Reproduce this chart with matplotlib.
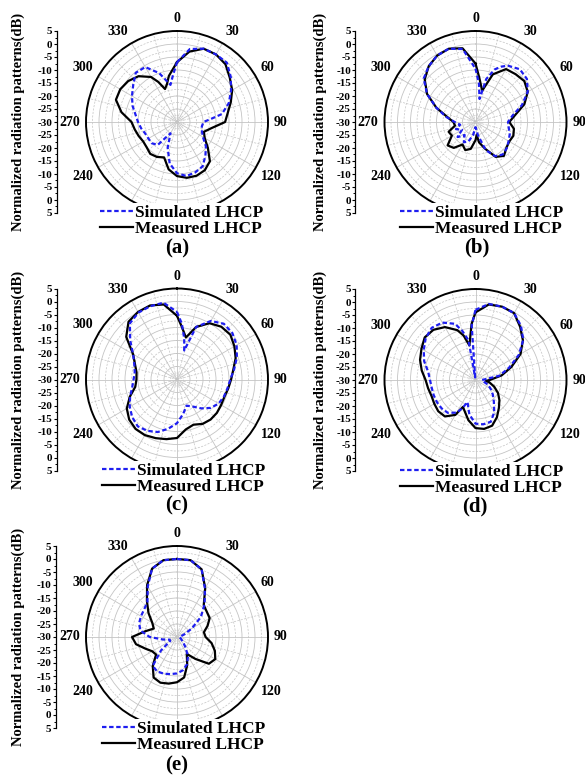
import numpy as np
import matplotlib
matplotlib.use("Agg")
import matplotlib.pyplot as plt
from matplotlib.lines import Line2D
from matplotlib.ticker import FixedLocator

plt.rcParams['font.family'] = ['Liberation Serif', 'DejaVu Serif']
plt.rcParams['font.weight'] = 'bold'

# ---------------- pattern data (angle in degrees, level in dB) ----------------
theta_a_meas = [0, 10, 20, 30, 40, 50, 60, 70, 80, 90, 100, 110, 120, 130, 140, 150, 160, 170,
                180, 190, 200, 210, 220, 230, 240, 250, 260, 270, 280, 290, 300, 310, 320, 330,
                335, 340, 345, 350]
db_a_meas = [-7, -2.5, 0, 0, -1, -3.5, -5.5, -8, -10.2, -11.5, -16.5, -19, -17.7, -14.5, -10.3,
             -8.6, -8, -8.2, -9.2, -11.5, -15.5, -14.5, -14, -14.8, -15, -14.3, -13.5, -12.5,
             -8.3, -5, -4.8, -5.5, -7, -10, -13, -16.5, -15, -12]
theta_a_sim = [0, 10, 20, 30, 40, 50, 60, 70, 80, 85, 90, 100, 110, 120, 130, 140, 150, 160, 170,
               180, 190, 200, 210, 220, 230, 240, 250, 260, 270, 280, 290, 300, 310, 320, 330,
               340, 350, 355]
db_a_sim = [-7, -1.5, 0, 0, -0.2, -3, -6, -8.8, -12.5, -17, -19.8, -20.3, -19.8, -18.5, -15.5,
            -13, -10.3, -9.4, -8.9, -10.3, -13.8, -19.5, -25, -18.5, -17.3, -17.3, -17, -16, -15,
            -13.8, -11.8, -10, -8, -5.3, -5.6, -10, -15.5, -12]

theta_b_meas = [0, 5, 12, 20, 30, 40, 50, 60, 70, 80, 90, 100, 110, 120, 130, 140, 150, 160, 170,
                175, 180, 190, 200, 210, 220, 230, 240, 250, 260, 270, 280, 290, 300, 310, 320,
                330, 340, 350]
db_b_meas = [-7.5, -13, -17.7, -10.5, -6.5, -6, -5.5, -6.8, -10, -14.5, -17, -15, -14.5, -15,
             -14.5, -13, -14.5, -19, -22, -25, -23, -19.5, -18.5, -20, -17, -16, -19.5, -19, -22,
             -21.5, -19, -14, -8.5, -4.5, -2, -0.5, 0, -1.2]
theta_b_sim = [0, 5, 10, 14, 20, 25, 30, 40, 50, 60, 70, 80, 90, 100, 110, 120, 130, 140, 150,
               160, 170, 180, 190, 200, 210, 220, 230, 240, 250, 260, 270, 280, 290, 300, 310,
               320, 330, 340, 350]
db_b_sim = [-9.5, -15, -21, -13, -8.5, -6.5, -5, -3.5, -4.2, -6.8, -11, -15.5, -17.5, -17, -16,
            -15.3, -14.3, -13.7, -14.8, -18.5, -25, -28, -25, -22, -21, -23.5, -21, -24, -22, -24,
            -22, -18.5, -14, -8.5, -4, -2, -0.5, 0, -1.5]

theta_c_meas = [0, 5, 12, 20, 30, 40, 50, 60, 70, 80, 90, 100, 110, 120, 130, 140, 150, 160, 170,
                180, 190, 200, 210, 220, 230, 240, 250, 260, 270, 280, 290, 300, 310, 320, 330,
                340, 350]
db_c_meas = [-5.5, -9.5, -13.5, -8.5, -5, -3.5, -3.2, -4.5, -6, -8, -9.2, -10, -10.6, -10.4, -10,
             -9.9, -10.3, -11.5, -10.5, -7.5, -6.7, -6, -5.3, -5.2, -6, -7.7, -10.7, -13.7, -14.4,
             -14.2, -12.8, -10.5, -4.5, -1, 0, 0.3, -0.7]
theta_c_sim = [0, 5, 10, 14, 20, 30, 40, 50, 60, 70, 80, 90, 100, 110, 120, 130, 140, 150, 160,
               170, 180, 190, 200, 210, 220, 230, 240, 250, 260, 270, 280, 290, 300, 310, 320,
               330, 340, 350]
db_c_sim = [-4, -8.5, -14, -18.5, -8.5, -4, -2, -2.2, -3.5, -5.5, -7.7, -9.5, -10.3, -10.8, -11.5,
            -13, -15.5, -18, -19.3, -16.5, -13.2, -10.8, -8.5, -7.2, -6.5, -7.5, -9, -10.8, -12.5,
            -13.3, -13.5, -12.5, -10.5, -6.5, -1.8, -0.3, 0, 0]

theta_d_meas = [0, 10, 20, 30, 40, 50, 60, 70, 80, 90, 95, 100, 110, 120, 130, 140, 150, 160, 170,
                180, 190, 200, 205, 210, 220, 230, 240, 250, 260, 270, 280, 290, 300, 310, 320,
                330, 340, 345, 350, 353, 356]
db_d_meas = [-4, -0.5, 0, -0.3, -3.3, -6.2, -10, -15.3, -19.8, -24.5, -26, -24.5, -22.3, -20, -18,
             -16, -13.5, -11.3, -10.9, -11.5, -14.3, -17.5, -18.6, -14.5, -11.7, -11.3, -11.7,
             -12, -11.5, -10.8, -9, -7.3, -6, -4.5, -4.8, -6.5, -9.6, -12.3, -16.5, -13.4, -8.4]
theta_d_sim = [0, 10, 20, 30, 40, 50, 60, 70, 80, 90, 100, 110, 120, 130, 140, 150, 160, 170, 180,
               190, 200, 205, 210, 220, 230, 240, 250, 260, 270, 280, 290, 300, 310, 320, 330,
               340, 345, 350, 353, 356]
db_d_sim = [-3, -0.3, 0, -0.3, -2.8, -6, -10.8, -16.3, -20.8, -27.5, -27, -25, -23.3, -21.3, -19,
            -15.6, -12.9, -12.7, -13.2, -16.5, -21, -18, -15.5, -13.5, -13, -12.9, -12.9, -12.9,
            -12.5, -11.5, -9, -7, -5, -3.8, -4.5, -7, -10.5, -14.5, -29, -9]

theta_e_meas = list(range(0, 360, 10))
db_e_meas = [0, 0, -2.3, -8.3, -14, -15, -15.5, -17.5, -19.5, -19, -16.5, -14.5, -13, -14, -19,
             -22.5, -18.5, -14.2, -12.6, -11.8, -11.3, -12, -15.5, -19.5, -19, -17, -14, -12.7,
             -17.5, -20.5, -19, -15.7, -12, -7, -2, 0]
theta_e_sim = list(range(0, 360, 10))
db_e_sim = [0, 0, -2.3, -8.5, -13.5, -18, -23.4, -27, -28.5, -29, -29, -28.5, -28, -27, -25,
            -21.5, -18.8, -17, -16, -15.5, -15, -14.7, -15.5, -22, -27, -27, -24.5, -19.5, -15.7,
            -14.5, -14, -13.5, -12.3, -7.5, -2, 0]

angle_ticks = [0, 30, 60, 90, 120, 150, 180, 210, 240, 270, 300, 330]
angle_labels = ['0', '30', '60', '90', '120', '', '', '', '240', '270', '300', '330']
legend_labels = ['Simulated LHCP', 'Measured LHCP']
panel_tags = ['(a)', '(b)', '(c)', '(d)', '(e)']
ylabel_text = 'Normalized radiation patterns(dB)'

R_MIN, R_MAX = -30, 5

# ---------------- layout (pixels) ----------------
W, H = 585, 776
RAD = 91
panels = [
    dict(c=(177, 122), axx=57, ylx=18, leg=(98, 203), tag=(177, 248),
         meas=(theta_a_meas, db_a_meas), sim=(theta_a_sim, db_a_sim)),
    dict(c=(475.5, 122), axx=355.5, ylx=320, leg=(398, 203), tag=(477, 247),
         meas=(theta_b_meas, db_b_meas), sim=(theta_b_sim, db_b_sim)),
    dict(c=(177, 379.5), axx=57, ylx=18, leg=(100, 461), tag=(177, 505),
         meas=(theta_c_meas, db_c_meas), sim=(theta_c_sim, db_c_sim)),
    dict(c=(475.5, 380), axx=355.5, ylx=320, leg=(398, 462), tag=(475, 506),
         meas=(theta_d_meas, db_d_meas), sim=(theta_d_sim, db_d_sim)),
    dict(c=(177, 637), axx=56, ylx=18, leg=(100, 719), tag=(177, 765),
         meas=(theta_e_meas, db_e_meas), sim=(theta_e_sim, db_e_sim)),
]

BLUE = '#1e1ef0'
GRID = '#c4c4c4'

fig = plt.figure(figsize=(W / 100, H / 100), dpi=100)


def fx(x):
    return x / W


def fy(y):
    return 1 - y / H


def closed(theta, db):
    t = np.radians(np.append(theta, theta[0] + 360))
    r = np.append(db, db[0])
    return t, r


for p, tag in zip(panels, panel_tags):
    cx, cy = p['c']
    ax = fig.add_axes([fx(cx - RAD), fy(cy + RAD), 2 * RAD / W, 2 * RAD / H],
                      projection='polar')
    ax.set_theta_zero_location('N')
    ax.set_theta_direction(-1)
    ax.set_ylim(R_MIN, R_MAX)

    ax.set_xticks(np.radians(angle_ticks))
    ax.set_xticklabels([])
    ax.set_xticks(np.radians(np.arange(15, 360, 30)), minor=True)
    ax.set_yticks(np.arange(-25, 5, 5))
    ax.set_yticks(np.arange(-27.5, 5, 5), minor=True)
    ax.set_yticklabels([])
    ax.xaxis.grid(True, which='major', color=GRID, lw=0.6, ls='-')
    ax.yaxis.grid(True, which='major', color=GRID, lw=0.6, ls='-')
    ax.xaxis.grid(True, which='minor', color=GRID, lw=0.5, ls=(0, (3, 2)))
    ax.yaxis.grid(True, which='minor', color=GRID, lw=0.5, ls=(0, (3, 2)))
    ax.tick_params(which='both', length=0)
    ax.spines['polar'].set_linewidth(1.4)
    ax.spines['polar'].set_color('black')

    tm, rm = closed(*p['meas'])
    ts, rs = closed(*p['sim'])
    ax.plot(tm, rm, color='black', lw=1.6, zorder=3)
    ax.plot(ts, rs, color=BLUE, lw=1.6, dashes=(2, 1.2), zorder=4)

    # angle labels around the rim
    pad = 4.3
    for a, lab in zip(angle_ticks, angle_labels):
        if not lab:
            continue
        s, c = np.sin(np.radians(a)), np.cos(np.radians(a))
        ha = 'left' if s > 0.3 else ('right' if s < -0.3 else 'center')
        va = 'bottom' if c > 0.3 else ('top' if c < -0.3 else 'center')
        ax.annotate(lab, xy=(np.radians(a), R_MAX), xytext=(pad * s, pad * c),
                    textcoords='offset points', ha=ha, va=va, fontsize=10,
                    fontweight='bold', annotation_clip=False)

    # legend on an opaque white box that hides the lower part of the rim
    handles = [Line2D([], [], color=BLUE, lw=1.6, dashes=(2, 1.2)),
               Line2D([], [], color='black', lw=1.6)]
    lx, ly = p['leg']
    leg = ax.legend(handles, legend_labels, loc='upper left',
                    bbox_to_anchor=(fx(lx), fy(ly)), bbox_transform=fig.transFigure,
                    frameon=True, facecolor='white', edgecolor='none', framealpha=1,
                    fancybox=False, borderpad=0.1, borderaxespad=0, handlelength=1.9,
                    handletextpad=0.15, labelspacing=0.0,
                    prop=dict(family=['Liberation Serif'], weight='bold', size=12.5))
    leg.set_zorder(10)

    # linear dB scale along the left side
    lax = fig.add_axes([fx(p['axx']), fy(cy + RAD), 0.0001, 2 * RAD / H])
    lax.set_ylim(-35, 35)
    lax.patch.set_visible(False)
    for side in ('top', 'right', 'bottom'):
        lax.spines[side].set_visible(False)
    lax.spines['left'].set_linewidth(0.9)
    lax.set_xticks([])
    major = np.arange(-35, 36, 5)
    lax.yaxis.set_major_locator(FixedLocator(major))
    lax.set_yticklabels([f"{int(abs(v) - 30)}" for v in major])
    lax.yaxis.set_minor_locator(FixedLocator(np.arange(-32.5, 35, 5)))
    lax.tick_params(axis='y', which='major', direction='out', length=2.5, width=0.8,
                    labelsize=8, pad=0.8)
    lax.tick_params(axis='y', which='minor', direction='out', length=1.4, width=0.7)

    fig.text(fx(p['ylx']), fy(cy), ylabel_text, rotation=90, ha='center', va='center',
             fontsize=10.5, fontweight='bold')

    tx, ty = p['tag']
    fig.text(fx(tx), fy(ty), tag, ha='center', va='center', fontsize=15, fontweight='bold')

fig.savefig('out.png', dpi=100, facecolor='white')
